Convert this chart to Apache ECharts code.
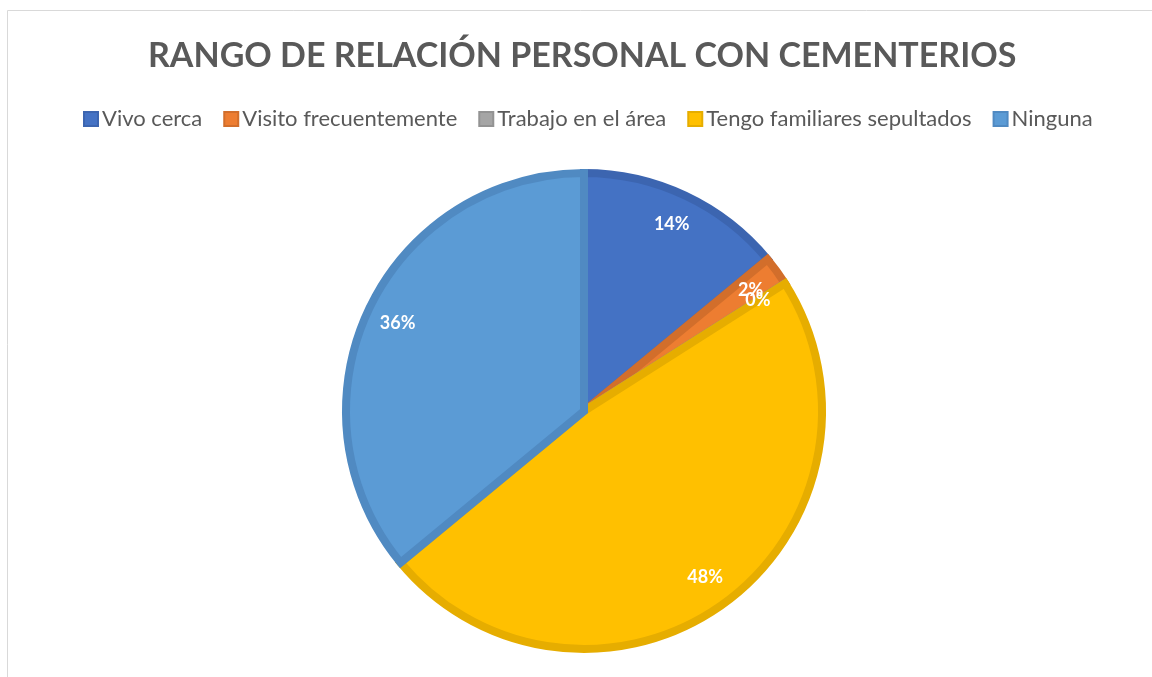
<html lang="es">
<head>
  <meta charset="UTF-8">
  <title>rango de relacion</title>
  <style>
    html, body { margin: 0; padding: 0; background: #fff; }
    #main { width: 1152px; height: 677px; }
  </style>
</head>
<body>
  <div id="main"></div>
  <script src="https://cdn.jsdelivr.net/npm/echarts@6/dist/echarts.min.js"></script>
  <script>
    var categories = ['Vivo cerca', 'Visito frecuentemente', 'Trabajo en el área', 'Tengo familiares sepultados', 'Ninguna']
    var values = [14, 2, 0, 48, 36]
    var colors = ['#4472C4', '#ED7D31', '#A5A5A5', '#FFC000', '#5B9BD5']
    var borders = ['#3C65B0', '#D26E2B', '#939393', '#E6AD00', '#508AC2']

    var onload = function () {
      var pieData = []
      var labelData = []
      categories.forEach(function (name, i) {
        pieData.push({
          name: name,
          value: values[i],
          itemStyle: { color: colors[i], borderColor: borders[i] }
        })
        labelData.push({ name: name, value: values[i] })
      })

      var center = [584, 411]
      var option = {
        animation: false,
        color: colors,
        title: {
          text: 'RANGO DE RELACIÓN PERSONAL CON CEMENTERIOS',
          left: 143,
          top: 34,
          textStyle: {
            fontFamily: 'Lato',
            fontWeight: 'bold',
            fontSize: 34,
            color: '#595959'
          }
        },
        legend: {
          top: 103,
          left: 78,
          icon: 'rect',
          itemWidth: 14,
          itemHeight: 14,
          itemGap: 21,
          data: categories,
          textStyle: {
            fontFamily: 'Lato',
            fontSize: 22,
            color: '#595959',
            padding: [0, 0, 0, -1]
          }
        },
        graphic: [{
          type: 'rect',
          silent: true,
          shape: { x: 7.5, y: 10.5, width: 1300, height: 800 },
          style: { fill: 'none', stroke: '#d9d9d9', lineWidth: 1 }
        }],
        series: [
          {
            type: 'pie',
            center: center,
            radius: [0, 238],
            startAngle: 90,
            clockwise: true,
            avoidLabelOverlap: false,
            label: { show: false },
            labelLine: { show: false },
            emphasis: { disabled: true },
            itemStyle: { borderWidth: 8, borderJoin: 'miter' },
            data: pieData
          },
          {
            type: 'pie',
            center: center,
            radius: [166, 240],
            startAngle: 90,
            clockwise: true,
            silent: true,
            avoidLabelOverlap: false,
            percentPrecision: 0,
            itemStyle: { color: 'rgba(0,0,0,0)' },
            emphasis: { disabled: true },
            labelLine: { show: false },
            label: {
              show: true,
              position: 'inside',
              formatter: '{d}%',
              fontFamily: 'Lato',
              fontWeight: 'bold',
              fontSize: 18,
              color: '#ffffff'
            },
            labelLayout: { hideOverlap: false },
            data: labelData
          }
        ]
      }

      var chart = echarts.init(document.getElementById('main'))
      chart.setOption(option)
    }
    window.onload = onload
  </script>
</body>
</html>
